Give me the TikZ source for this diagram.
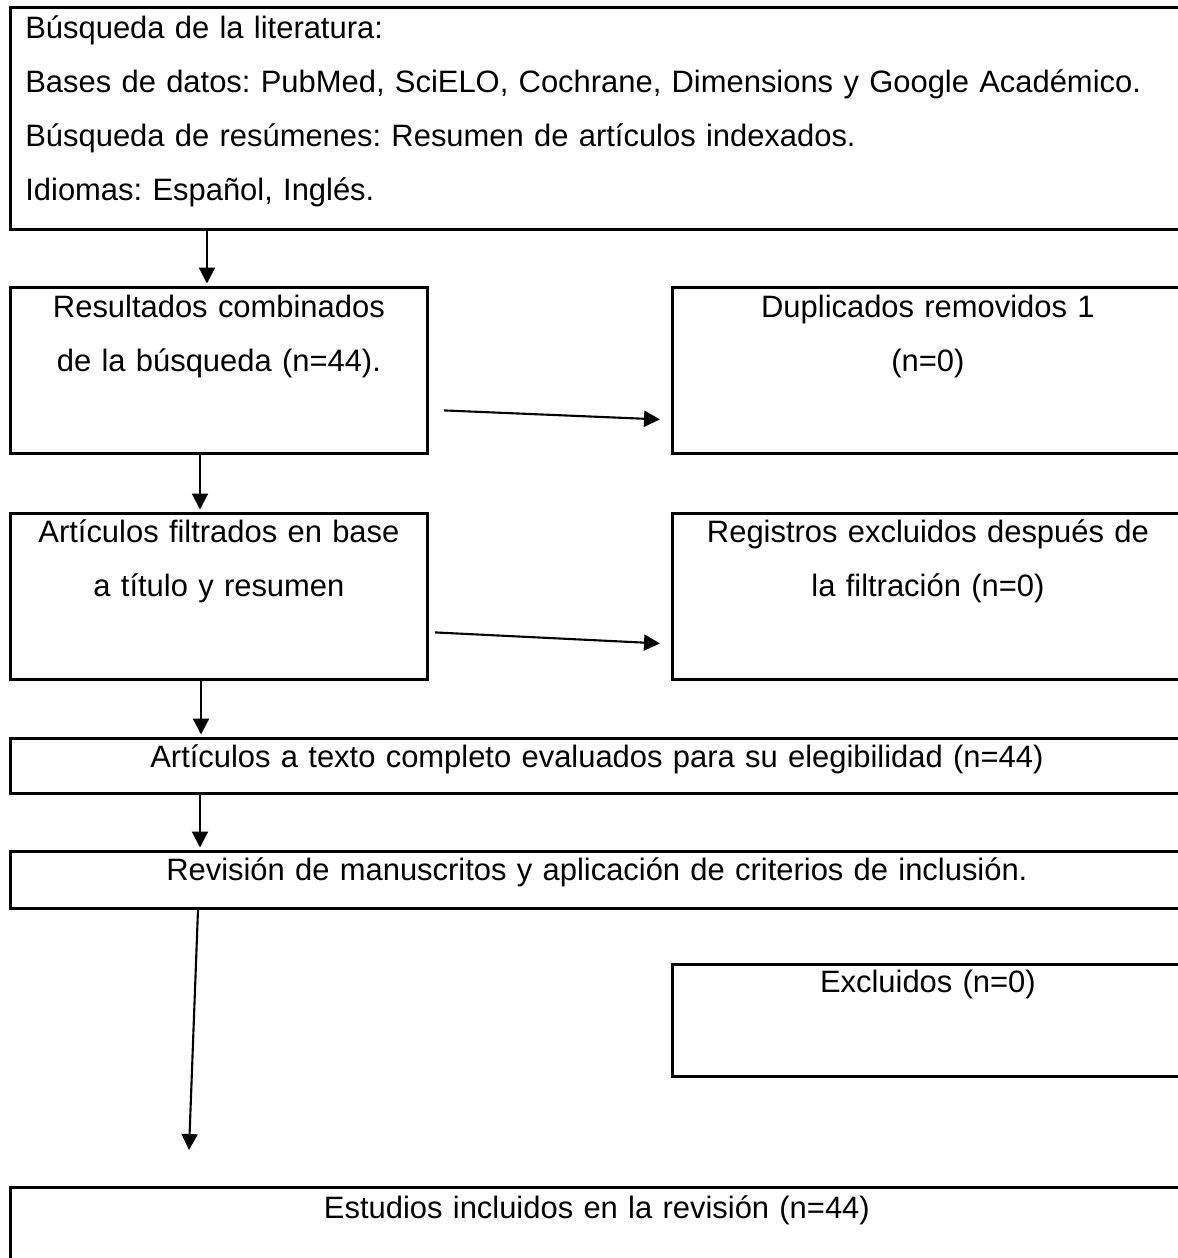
\documentclass[tikz,border=0pt]{standalone}
\usepackage{fontspec}
\setmainfont{Liberation Sans}
\frenchspacing
\usetikzlibrary{arrows.meta, positioning, calc}
\tikzset{
  flowbox/.style={
    draw=black, line width=1.6pt, anchor=north west,
    inner sep=0pt, minimum width=#1
  },
  flowbox/.default=8.34cm,
  boxtext/.style={
    font=\fontsize{17.6}{30.8}\selectfont, text=black,
    anchor=base, align=center, text width=#1, inner sep=0pt
  },
  boxtext/.default=8cm,
  arr/.style={-{Triangle[length=0.32cm,width=0.32cm]}, line width=1.2pt},
}

\begin{document}
\begin{tikzpicture}
  \useasboundingbox (0,0) rectangle (23.56,-25.16);
  \clip (0,0) rectangle (23.56,-25.16);

  % Busqueda
  \node[flowbox=23.46cm, minimum height=4.44cm] (lit) at (0.18,-0.12) {};
  \node[boxtext=23cm, align=left, anchor=base west]
    (litT) at ([shift={(0.32,-0.64)}]lit.north west)
    {B\'usqueda de la literatura:\\
     Bases de datos: PubMed, SciELO, Cochrane, Dimensions y Google Acad\'emico.\\
     B\'usqueda de res\'umenes: Resumen de art\'iculos indexados.\\
     Idiomas: Espa\~nol, Ingl\'es.};

  % Resultados / duplicados
  \node[flowbox, minimum height=3.32cm] (res) at (0.18,-5.72) {};
  \node[boxtext] (resT) at ([yshift=-0.62cm]res.north)
    {Resultados combinados\\de la b\'usqueda (n=44).};
  \node[flowbox=10.22cm, minimum height=3.32cm] (dup) at (13.42,-5.72) {};
  \node[boxtext=9.8cm] (dupT) at ([yshift=-0.62cm]dup.north)
    {Duplicados removidos 1\\(n=0)};

  % Filtrado / registros
  \node[flowbox, minimum height=3.32cm] (filt) at (0.18,-10.24) {};
  \node[boxtext] (filtT) at ([yshift=-0.6cm]filt.north)
    {Art\'iculos filtrados en base\\a t\'itulo y resumen};
  \node[flowbox=10.22cm, minimum height=3.32cm] (reg) at (13.42,-10.24) {};
  \node[boxtext=9.8cm] (regT) at ([yshift=-0.6cm]reg.north)
    {Registros excluidos despu\'es de\\la filtraci\'on (n=0)};

  % Texto completo, revision
  \node[flowbox=23.46cm, minimum height=1.1cm] (texto) at (0.18,-14.74) {};
  \node[boxtext=22cm] (textoT) at ([yshift=-0.6cm]texto.north)
    {Art\'iculos a texto completo evaluados para su elegibilidad (n=44)};
  \node[flowbox=23.46cm, minimum height=1.14cm] (rev) at (0.18,-17.0) {};
  \node[boxtext=22cm] (revT) at ([yshift=-0.6cm]rev.north)
    {Revisi\'on de manuscritos y aplicaci\'on de criterios de inclusi\'on.};

  % Excluidos, incluidos
  \node[flowbox=10.22cm, minimum height=2.24cm] (excl) at (13.42,-19.26) {};
  \node[boxtext=9.8cm] (exclT) at ([yshift=-0.58cm]excl.north)
    {Excluidos (n=0)};
  \node[flowbox=23.46cm, minimum height=3cm] (incl) at (0.18,-23.72) {};
  \node[boxtext=22cm] (inclT) at ([yshift=-0.64cm]incl.north)
    {Estudios incluidos en la revisi\'on (n=44)};

  % Arrows
  \draw[arr] ($(lit.south west)+(3.96,0)$) -- ($(res.north west)+(3.96,0.05)$);
  \draw[arr] ($(res.south west)+(3.82,0)$) -- ($(filt.north west)+(3.82,0.05)$);
  \draw[arr] ($(filt.south west)+(3.84,0)$) -- ($(texto.north west)+(3.84,0.05)$);
  \draw[arr] ($(texto.south west)+(3.82,0)$) -- ($(rev.north west)+(3.82,0.05)$);
  \draw[arr] ($(rev.south west)+(3.78,0)$) -- ($(incl.north west)+(3.6,0.72)$);
  \draw[arr] ($(res.east)+(0.30,-0.80)$) -- ($(dup.west)+(-0.22,-0.98)$);
  \draw[arr] ($(filt.east)+(0.12,-0.72)$) -- ($(reg.west)+(-0.22,-0.94)$);
\end{tikzpicture}
\end{document}
